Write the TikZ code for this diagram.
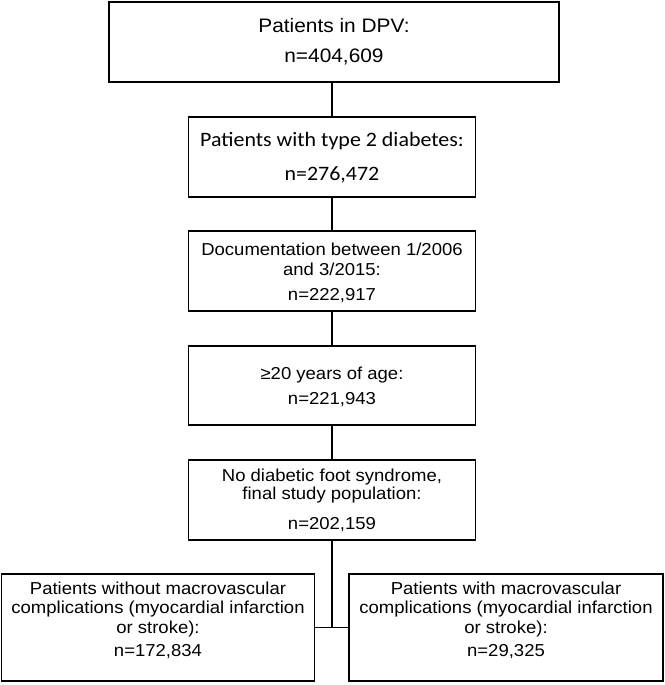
\documentclass[tikz,border=0pt]{standalone}
\usepackage{fontspec}
\setmainfont[FakeStretch=1.07]{Liberation Sans}
\newfontfamily\calfont[FakeStretch=1.07]{Carlito}
\begin{document}
\begin{tikzpicture}[x=1pt,y=-1pt,
  box/.style={draw, line width=1.2pt, inner sep=0pt},
  conn/.style={draw, line width=1.2pt},
  txt/.style={align=center, inner sep=0pt, font=\fontsize{17.3}{19.5}\selectfont}]
\useasboundingbox (0,0) rectangle (664,685);
% boxes
\node[box, minimum width=450pt, minimum height=80pt] (b1) at (334,42) {};
\node[box, minimum width=287pt, minimum height=80pt] (b2) at (332,157) {};
\node[box, minimum width=287pt, minimum height=80pt] (b3) at (332,271) {};
\node[box, minimum width=287pt, minimum height=79pt] (b4) at (332,385.5) {};
\node[box, minimum width=287pt, minimum height=80pt] (b5) at (332,500) {};
\node[box, minimum width=313pt, minimum height=107pt] (bl) at (158,627.5) {};
\node[box, minimum width=314pt, minimum height=107pt] (br) at (506,627.5) {};
% texts
\node[txt, font=\fontsize{19.5}{30}\selectfont] (t1) at (334,42) {Patients in DPV:\\n=404,609};
\node[txt, font=\calfont\fontsize{20.5}{34}\selectfont] (t2) at (332,158) {Patients with type 2 diabetes:\\n=276,472};
\node[txt] (t3) at (332,273) {Documentation between 1/2006\\and 3/2015:\\[5.5pt]n=222,917};
\node[txt] (t4) at (332,386.5) {≥20 years of age:\\[5.5pt]n=221,943};
\node[txt, font=\fontsize{17.3}{18}\selectfont] (t5) at (332,500.5) {No diabetic foot syndrome,\\final study population:\\[12pt]n=202,159};
\node[txt] (tl) at (158,620) {Patients without macrovascular\\complications (myocardial infarction\\or stroke):\\[3.5pt]n=172,834};
\node[txt] (tr) at (506,620) {Patients with macrovascular\\complications (myocardial infarction\\or stroke):\\[3.5pt]n=29,325};
% connectors
\draw[conn] (b2.north |- b1.south) -- (b2.north);
\draw[conn] (b2) -- (b3);
\draw[conn] (b3) -- (b4);
\draw[conn] (b4) -- (b5);
\coordinate (j) at (b5.south |- bl.east);
\draw[conn] (b5.south) -- (j);
\draw[conn] (bl.east) -- (br.west);
\end{tikzpicture}
\end{document}
